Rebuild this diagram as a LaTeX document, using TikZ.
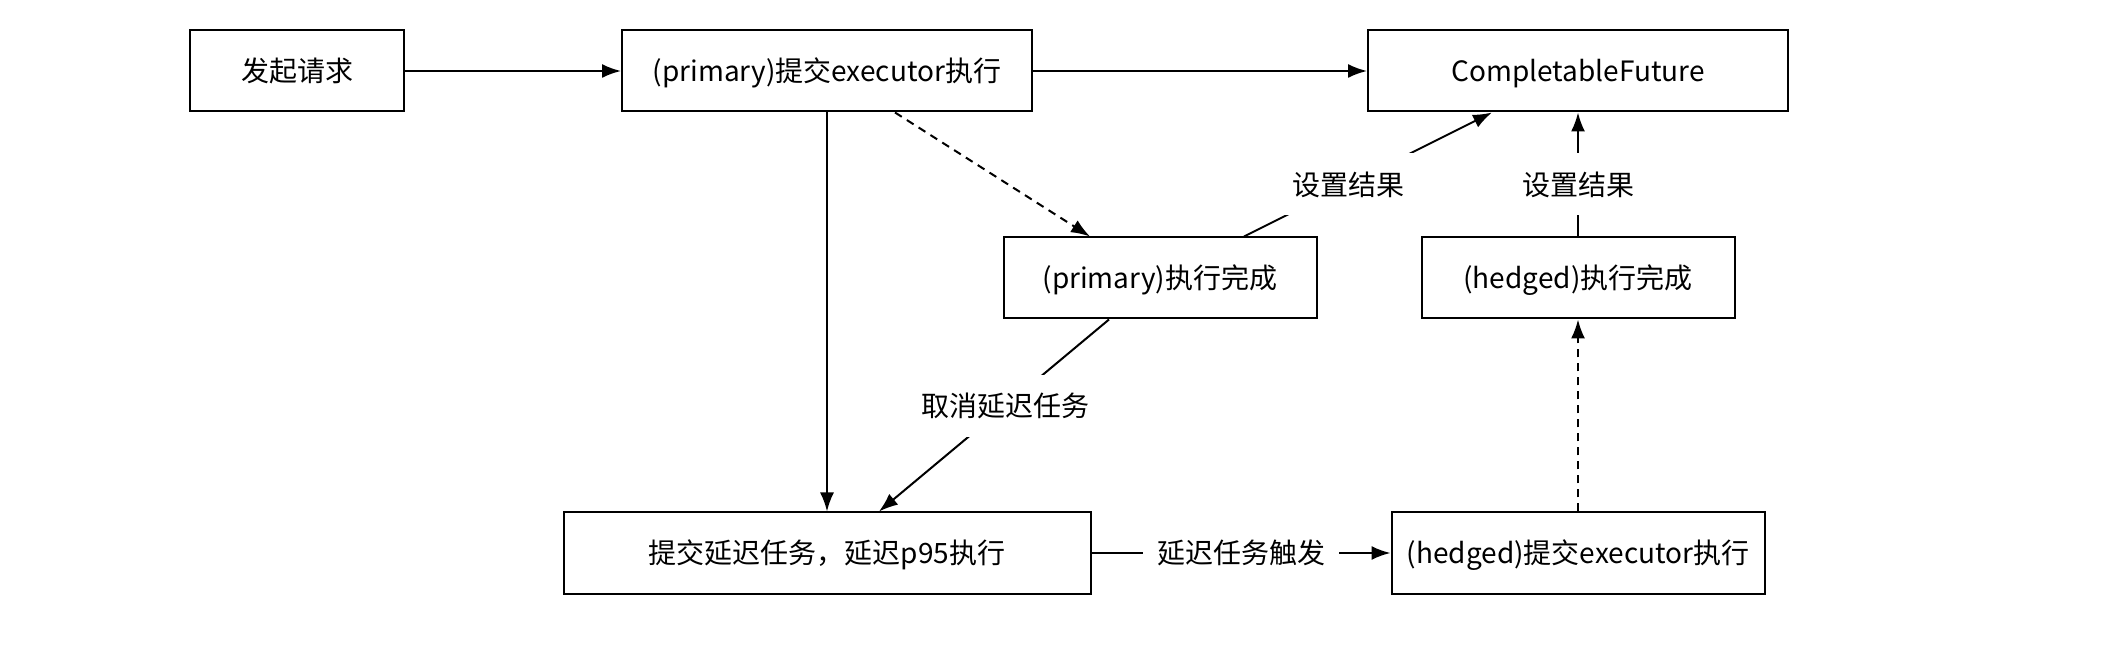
\documentclass[tikz,border=0pt]{standalone}
\usepackage{fontspec}
\setmainfont{Noto Sans CJK SC}
\usetikzlibrary{arrows.meta}
\tikzset{
	block/.style   = {draw, rectangle, minimum height = 40.5pt, inner sep = 0pt},
	lbl/.style     = {fill = white, inner xsep = 7pt, inner ysep = 9pt},
	dashline/.style = {dash pattern = on 4pt off 3pt}
}

\begin{document}
\begin{tikzpicture}[x=0.5pt, y=-0.5pt, line width=1pt, >={Latex[length=9.5pt,width=7pt]},
	font=\fontsize{14}{17}\selectfont, text height=12pt, text depth=1pt]
\useasboundingbox (0,0) rectangle (2116,646);
\draw
node at (297,71)   [block, minimum width=107pt]   (req)   {发起请求}
node at (827,71)   [block, minimum width=205pt]   (psub)  {(primary)提交executor执行}
node at (1578,71)  [block, minimum width=210pt]   (cf)    {CompletableFuture}
node at (1160,278) [block, minimum width=156.5pt] (pdone) {(primary)执行完成}
node at (1578,278) [block, minimum width=156.5pt] (hdone) {(hedged)执行完成}
node at (827,553)  [block, minimum width=263.5pt] (dsub)  {提交延迟任务，延迟p95执行}
node at (1578,553) [block, minimum width=186.5pt] (hsub)  {(hedged)提交executor执行};

\draw[->](req)--(psub);
\draw[->](psub)--(cf);
\draw[->](psub)--(dsub);
\draw[->,dashline]([xshift=34pt]psub.south)--([xshift=-35pt]pdone.north);
\draw[->]([xshift=42pt]pdone.north)--node[lbl,pos=0.42]{设置结果}([xshift=-43pt]cf.south);
\draw[->](hdone)--node[lbl,pos=0.42]{设置结果}(cf);
\draw[->]([xshift=-25.5pt]pdone.south)--node[lbl,pos=0.45]{取消延迟任务}([xshift=26pt]dsub.north);
\draw[->](dsub)--node[lbl]{延迟任务触发}(hsub);
\draw[->,dashline](hsub)--(hdone);
\end{tikzpicture}
\end{document}
